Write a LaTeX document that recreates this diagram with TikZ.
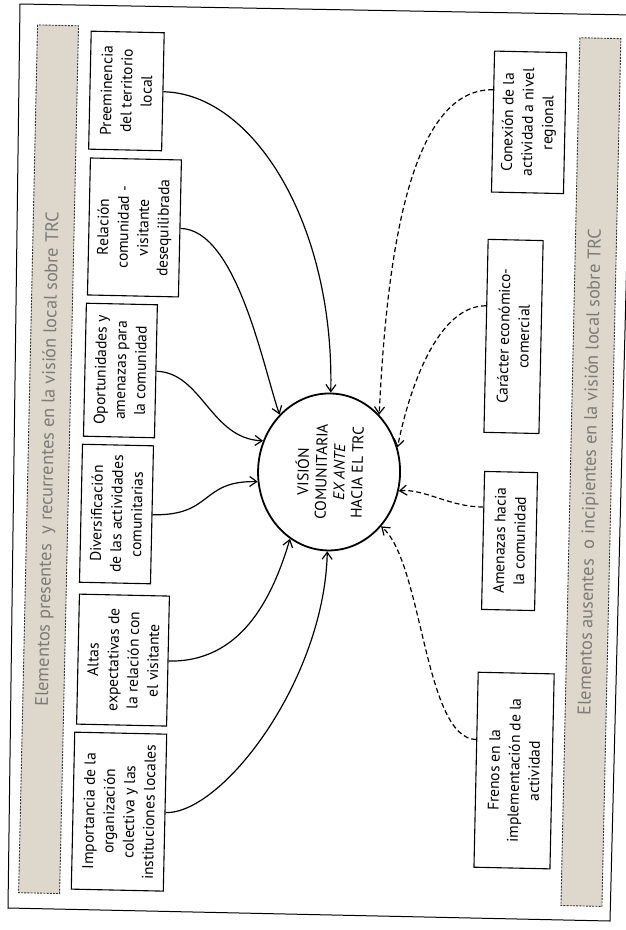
\documentclass[tikz,border=0pt]{standalone}
\usepackage{fontspec}
\setmainfont{PT Sans}
\usetikzlibrary{arrows.meta,shapes.geometric}
\definecolor{bandfill}{RGB}{222,216,204}
\definecolor{bandtext}{RGB}{125,123,120}
\begin{document}
\begin{tikzpicture}[x=1pt,y=-1pt,
  box/.style={draw,line width=1.1pt,rotate=90,align=center,inner sep=0pt,font=\fontsize{15.5}{20}\selectfont},
  band/.style={draw=black!80,fill=bandfill,line width=0.9pt,dash pattern=on 2pt off 1.2pt,rotate=90,inner sep=0pt,text=bandtext,font=\fontsize{18.3}{20}\selectfont},
  link/.style={line width=1.2pt,-{Straight Barb[length=7pt,width=10pt]}},
  dlink/.style={link,dash pattern=on 5pt off 3pt},
  centre/.style={draw,ellipse,line width=1.8pt,rotate=90,inner sep=0pt,align=center,font=\fontsize{15.5}{18}\selectfont}
]
\useasboundingbox (0,0) rectangle (626,930);
\draw[line width=1pt] (20,4) -- (633,15) -- (610,921) -- (8,908) -- cycle;
\begin{scope}[rotate around={-1.25:(313,465)},transform shape]
\node[band,minimum width=868pt,minimum height=41pt] (lb) at (48.5,465) {Elementos presentes\ \ y recurrentes en la visión local sobre TRC};
\node[band,minimum width=868pt,minimum height=41pt] (rb) at (591,466) {Elementos ausentes\ \ o incipientes en la visión local sobre TRC};

\node[box,minimum width=118pt,minimum height=73pt] (b1) at (118.3,95.1) {Preeminencia\\del territorio\\local};
\node[box,minimum width=137pt,minimum height=91pt] (b2) at (129.3,231.4) {Relación\\comunidad -\\visitante\\desequilibrada};
\node[box,minimum width=133pt,minimum height=71pt] (b3) at (118.4,374.7) {Oportunidades y\\amenazas para\\la comunidad};
\node[box,minimum width=138pt,minimum height=71pt] (b4) at (117.6,518.3) {Diversificación\\de las actividades\\comunitarias};
\node[box,minimum width=130pt,minimum height=90pt] (b5) at (127.3,664.2) {Altas\\expectativas de\\la relación con\\el visitante};
\node[box,minimum width=157pt,minimum height=92pt] (b6) at (126.6,815.8) {Importancia de la\\organización\\colectiva y las\\instituciones locales};

\node[box,minimum width=141pt,minimum height=72pt] (b7) at (521.5,117.7) {Conexión de la\\actividad a nivel\\regional};
\node[box,minimum width=193pt,minimum height=55pt] (b8) at (510.7,332.1) {Carácter económico-\\comercial};
\node[box,minimum width=138pt,minimum height=53pt] (b9) at (511.2,536.7) {Amenazas hacia\\la comunidad};
\node[box,minimum width=195pt,minimum height=76pt] (b10) at (520.7,766.1) {Frenos en la\\implementación de la\\actividad};

\node[centre,minimum width=157pt,minimum height=142pt] (ell) at (329.2,471.6) {VISIÓN\\COMUNITARIA\\\textit{EX ANTE}\\HACIA EL TRC};

\draw[link] (b1.south) .. controls (245,95) and (329,223) .. (ell.east);
\draw[link] (b2.south) .. controls (232,231) and (262,372) .. (ell.42);
\draw[link] (b3.south) .. controls (200,375) and (210,441) .. (ell.66);
\draw[link] (b4.south) .. controls (215,518) and (200,483) .. (ell.99);
\draw[link] (b5.south) .. controls (245,664) and (275,600) .. (ell.151);
\draw[link] (b6.south) .. controls (230,816) and (329,680) .. (ell.west);

\draw[dlink] (b7.49) .. controls (400,86) and (382,260) .. (ell.320);
\draw[dlink] (b8.43.5) .. controls (430,303) and (405,400) .. (ell.291);
\draw[dlink] (b9.39) .. controls (450,504) and (425,486) .. (ell.256);
\draw[dlink] (b10.52) .. controls (430,736) and (425,560) .. (ell.225);
\end{scope}
\end{tikzpicture}
\end{document}
